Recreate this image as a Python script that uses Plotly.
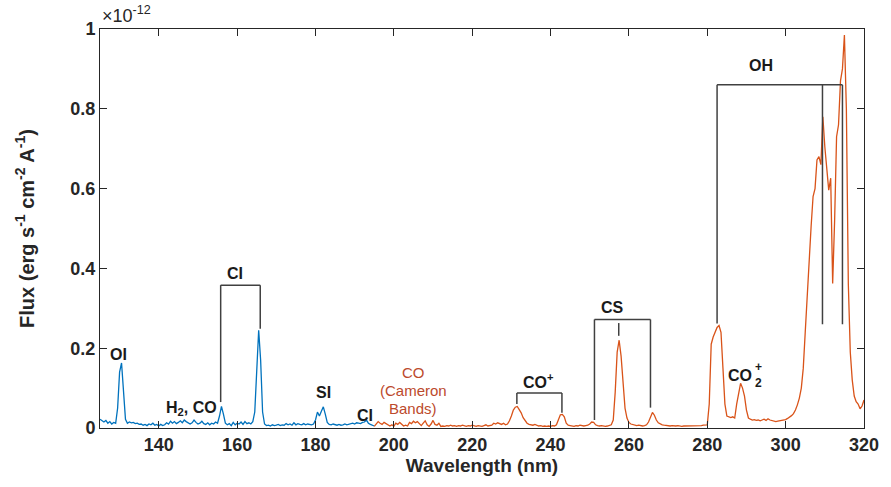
import numpy as np
import plotly.graph_objects as go

# Far-UV channel: wavelength grid (nm) and flux (units of 1e-12 erg s^-1 cm^-2 A^-1)
wl_fuv = np.arange(125.0, 195.01, 0.5)
flux_fuv = [
    0.022, 0.018, 0.015, 0.019, 0.012, 0.016, 0.010, 0.014, 0.012, 0.050,
    0.140, 0.163, 0.090, 0.022, 0.012, 0.015, 0.013, 0.014, 0.011, 0.012,
    0.009, 0.010, 0.007, 0.009, 0.006, 0.010, 0.008, 0.012, 0.007, 0.009,
    0.005, 0.009, 0.006, 0.008, 0.013, 0.010, 0.017, 0.012, 0.016, 0.011,
    0.014, 0.018, 0.013, 0.020, 0.016, 0.012, 0.010, 0.013, 0.020, 0.014,
    0.010, 0.012, 0.017, 0.011, 0.009, 0.013, 0.008, 0.012, 0.010, 0.015,
    0.012, 0.030, 0.054, 0.035, 0.012, 0.008, 0.011, 0.006, 0.014, 0.008,
    0.012, 0.010, 0.015, 0.009, 0.016, 0.011, 0.013, 0.010, 0.016, 0.040,
    0.150, 0.245, 0.170, 0.040, 0.010, 0.006, 0.007, 0.005, 0.008, 0.006,
    0.007, 0.009, 0.006, 0.008, 0.007, 0.011, 0.008, 0.010, 0.007, 0.013,
    0.008, 0.011, 0.009, 0.008, 0.011, 0.008, 0.010, 0.009, 0.008, 0.010,
    0.020, 0.040, 0.030, 0.042, 0.053, 0.035, 0.014, 0.009, 0.008, 0.010,
    0.008, 0.007, 0.009, 0.007, 0.008, 0.010, 0.008, 0.009, 0.011, 0.012,
    0.010, 0.013, 0.012, 0.011, 0.014, 0.015, 0.020, 0.012, 0.009, 0.006,
    0.005,
]

# Mid-UV channel
wl_muv = np.arange(195.0, 320.01, 0.5)
flux_muv = [
    # 195 - 199.5
    0.004, 0.010, 0.016, 0.012, 0.009, 0.014, 0.011, 0.006, 0.005, 0.008,
    # 200 - 204.5
    0.004, 0.012, 0.009, 0.014, 0.010, 0.005, 0.007, 0.005, 0.014, 0.011,
    # 205 - 209.5
    0.017, 0.013, 0.016, 0.010, 0.006, 0.012, 0.018, 0.008, 0.004, 0.010,
    # 210 - 214.5
    0.019, 0.009, 0.007, 0.012, 0.004, 0.005, 0.004, 0.006, 0.005, 0.007,
    # 215 - 219.5
    0.005, 0.006, 0.004, 0.006, 0.005, 0.007, 0.005, 0.004, 0.006, 0.005,
    # 220 - 224.5
    0.007, 0.005, 0.004, 0.006, 0.005, 0.004, 0.006, 0.008, 0.005, 0.006,
    # 225 - 229.5
    0.007, 0.012, 0.010, 0.013, 0.011, 0.009, 0.012, 0.008, 0.010, 0.018,
    # 230 - 234.5
    0.030, 0.045, 0.052, 0.054, 0.046, 0.038, 0.026, 0.018, 0.012, 0.009,
    # 235 - 239.5
    0.008, 0.007, 0.009, 0.006, 0.005, 0.006, 0.004, 0.005, 0.004, 0.005,
    # 240 - 244.5
    0.004, 0.006, 0.005, 0.008, 0.020, 0.033, 0.034, 0.028, 0.012, 0.007,
    # 245 - 249.5
    0.006, 0.005, 0.004, 0.006, 0.005, 0.007, 0.006, 0.005, 0.006, 0.007,
    # 250 - 254.5
    0.010, 0.015, 0.014, 0.008, 0.006, 0.005, 0.006, 0.005, 0.004, 0.005,
    # 255 - 259.5
    0.006, 0.008, 0.020, 0.090, 0.190, 0.220, 0.180, 0.110, 0.050, 0.025,
    # 260 - 264.5
    0.014, 0.010, 0.008, 0.007, 0.006, 0.007, 0.006, 0.005, 0.006, 0.008,
    # 265 - 269.5
    0.015, 0.030, 0.039, 0.032, 0.020, 0.013, 0.010, 0.008, 0.007, 0.006,
    # 270 - 274.5
    0.006, 0.005, 0.006, 0.005, 0.005, 0.006, 0.005, 0.004, 0.005, 0.005,
    # 275 - 279.5
    0.006, 0.005, 0.005, 0.006, 0.006, 0.005, 0.006, 0.006, 0.007, 0.007,
    # 280 - 284.5
    0.008, 0.060, 0.210, 0.228, 0.240, 0.252, 0.257, 0.240, 0.150, 0.060,
    # 285 - 289.5
    0.030, 0.027, 0.026, 0.028, 0.025, 0.060, 0.085, 0.112, 0.100, 0.080,
    # 290 - 294.5
    0.045, 0.025, 0.022, 0.020, 0.021, 0.019, 0.020, 0.018, 0.020, 0.022,
    # 295 - 299.5
    0.019, 0.023, 0.020, 0.018, 0.017, 0.016, 0.017, 0.018, 0.019, 0.020,
    # 300 - 304.5
    0.021, 0.024, 0.027, 0.031, 0.036, 0.045, 0.058, 0.075, 0.100, 0.150,
    # 305 - 309.5
    0.240, 0.330, 0.440, 0.505, 0.580, 0.600, 0.672, 0.680, 0.660, 0.780,
    # 310 - 314.5
    0.705, 0.640, 0.596, 0.626, 0.362, 0.520, 0.730, 0.760, 0.870, 0.900,
    # 315 - 319.5
    0.985, 0.800, 0.360, 0.190, 0.120, 0.080, 0.066, 0.060, 0.048, 0.055,
    # 320
    0.070,
]

x_ticks = [140, 160, 180, 200, 220, 240, 260, 280, 300, 320]
y_ticks = [0, 0.2, 0.4, 0.6, 0.8, 1.0]
y_tick_text = ["0", "0.2", "0.4", "0.6", "0.8", "1"]

BLUE = "#0072BD"
ORANGE = "#D95319"
INK = "#262626"
BRACKET = "#404040"
FONT = "Liberation Sans, Arial, Helvetica, sans-serif"

fig = go.Figure()
fig.add_trace(go.Scatter(x=wl_fuv, y=flux_fuv, mode="lines",
                         line=dict(color=BLUE, width=1.3), showlegend=False))
fig.add_trace(go.Scatter(x=wl_muv, y=flux_muv, mode="lines",
                         line=dict(color=ORANGE, width=1.3), showlegend=False))

# Line-identification brackets: (x0, y0, x1, y1) segments in data units
brackets = [
    # C I 156 / 166
    (155.8, 0.065, 155.8, 0.358), (155.8, 0.358, 165.9, 0.358), (165.9, 0.358, 165.9, 0.249),
    # CO+
    (231.4, 0.060, 231.4, 0.088), (231.4, 0.088, 242.9, 0.088), (242.9, 0.088, 242.9, 0.038),
    # CS
    (251.2, 0.020, 251.2, 0.272), (251.2, 0.272, 265.5, 0.272), (265.5, 0.272, 265.5, 0.051),
    (257.4, 0.263, 257.4, 0.231),
    # OH
    (282.5, 0.262, 282.5, 0.86), (282.5, 0.86, 314.5, 0.86),
    (309.4, 0.86, 309.4, 0.26), (314.5, 0.86, 314.5, 0.26),
]
for x0, y0, x1, y1 in brackets:
    fig.add_shape(type="line", xref="x", yref="y", x0=x0, y0=y0, x1=x1, y1=y1,
                  line=dict(color=BRACKET, width=1.5))

labels = [
    ("OI", 129.7, 0.185),
    ("H<sub>2</sub>, CO", 148.4, 0.050),
    ("CI", 159.5, 0.386),
    ("SI", 182.0, 0.088),
    ("CI", 192.7, 0.032),
    ("CO<sup>+</sup>", 237.0, 0.118),
    ("CS", 255.7, 0.302),
    ("OH", 293.8, 0.908),
    ("CO", 288.3, 0.132),
]
for text, x, y in labels:
    fig.add_annotation(x=x, y=y, text=text, showarrow=False, xanchor="center", yanchor="middle",
                       font=dict(family=FONT, size=16, color="#1a1a1a", weight="bold"))
# stacked charge / subscript for CO2+
fig.add_annotation(x=288.3, y=0.132, text="+", showarrow=False, xanchor="left", yanchor="middle",
                   xshift=13, yshift=8, font=dict(family=FONT, size=12, color="#1a1a1a", weight="bold"))
fig.add_annotation(x=288.3, y=0.132, text="2", showarrow=False, xanchor="left", yanchor="middle",
                   xshift=13, yshift=-8, font=dict(family=FONT, size=12, color="#1a1a1a", weight="bold"))

# CO Cameron bands note
for text, y in [("CO", 0.138), ("(Cameron", 0.093), ("Bands)", 0.050)]:
    fig.add_annotation(x=205.0, y=y, text=text, showarrow=False, xanchor="center", yanchor="middle",
                       font=dict(family=FONT, size=15, color="#BC4A2C"))

# axis exponent
fig.add_annotation(xref="paper", yref="paper", x=0, y=1, xanchor="left", yanchor="bottom",
                   yshift=1, text="×10<sup>-12</sup>", showarrow=False,
                   font=dict(family=FONT, size=18, color=INK))

axis_common = dict(showline=True, linecolor=INK, linewidth=1, mirror="ticks",
                   ticks="inside", ticklen=7, tickcolor=INK, tickwidth=1,
                   showgrid=False, zeroline=False,
                   tickfont=dict(family=FONT, size=18, color=INK, weight="bold"))

fig.update_layout(
    width=891, height=487,
    margin=dict(l=100, r=27, t=29, b=59),
    paper_bgcolor="white", plot_bgcolor="white",
    font=dict(family=FONT, color=INK),
    xaxis=dict(range=[125, 320], tickvals=x_ticks,
               title=dict(text="Wavelength (nm)", standoff=5,
                          font=dict(family=FONT, size=19, color=INK, weight="bold")),
               **axis_common),
    yaxis=dict(range=[0, 1], tickvals=y_ticks, ticktext=y_tick_text,
               title=dict(text="Flux (erg s<sup>-1</sup> cm<sup>-2</sup> A<sup>-1</sup>)", standoff=30,
                          font=dict(family=FONT, size=20, color=INK, weight="bold")),
               **axis_common),
)

fig.write_html("out.html")
